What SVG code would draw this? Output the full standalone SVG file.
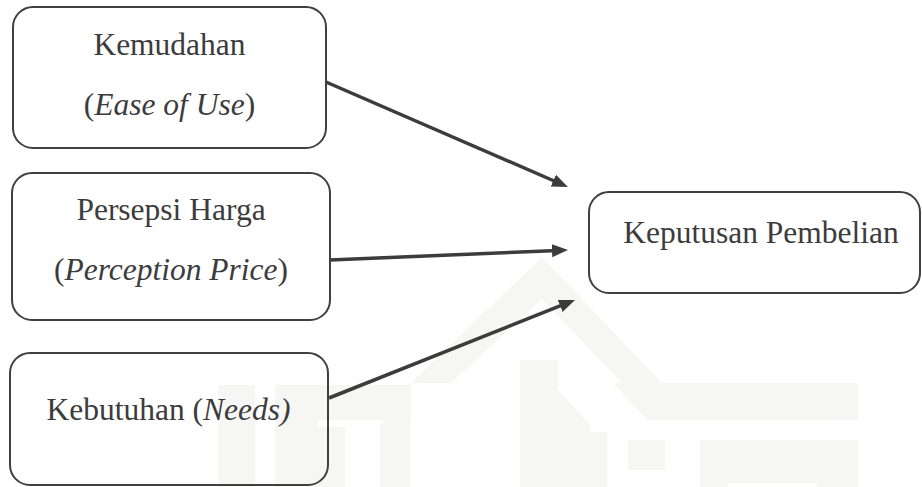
<svg xmlns="http://www.w3.org/2000/svg" width="922" height="487" viewBox="0 0 922 487">
<style>
.box{fill:none;stroke:#404040;stroke-width:2}
.t{font-family:"Liberation Serif","Times New Roman",serif;font-size:31.5px;fill:#3c3c3c;text-anchor:middle}
.i{font-style:italic}
.edge{stroke:#3c3c3c;stroke-width:3.5;fill:none}
.wm{fill:#f6f6f4}
</style>
<defs>
<marker id="arr" markerUnits="userSpaceOnUse" markerWidth="17" markerHeight="14" refX="6" refY="6.5" orient="auto">
<path d="M0,0 L16,6.5 L0,13 z" fill="#3c3c3c"/>
</marker>
</defs>
<rect width="922" height="487" fill="#ffffff"/>
<g id="watermark">
<polygon class="wm" points="411,383 542,257 662,383 622,383 542,299 451,383"/>
<rect class="wm" x="218" y="385" width="37" height="102"/>
<rect class="wm" x="275" y="385" width="43" height="102"/>
<rect class="wm" x="318" y="385" width="93" height="35"/>
<rect class="wm" x="313" y="427" width="32" height="60"/>
<polygon class="wm" points="380,487 380,425 410,395 410,487"/>
<rect class="wm" x="520" y="360" width="38" height="127"/>
<polygon class="wm" points="558,487 558,390 590,425 590,487"/>
<rect class="wm" x="573" y="432" width="34" height="55"/>
<polygon class="wm" points="613,383 858,383 858,420 647,420"/>
<rect class="wm" x="628" y="440" width="37" height="30"/>
<path class="wm" d="M700,440 H858 V487 H817 V483 H728 V487 H700 Z"/>
</g>
<g id="connectors">
<line class="edge" x1="326" y1="82" x2="558.8" y2="183.0" marker-end="url(#arr)"/>
<line class="edge" x1="330" y1="260" x2="558.0" y2="250.4" marker-end="url(#arr)"/>
<line class="edge" x1="329" y1="398" x2="565.7" y2="303.7" marker-end="url(#arr)"/>
</g>
<g id="node-kemudahan">
<rect class="box" x="13" y="7" width="313" height="141" rx="20"/>
<text class="t" x="169.5" y="55">Kemudahan</text>
<text class="t" x="169.5" y="115">(<tspan class="i">Ease of Use</tspan>)</text>
</g>
<g id="node-persepsi">
<rect class="box" x="12" y="173" width="318" height="147" rx="20"/>
<text class="t" x="171" y="220">Persepsi Harga</text>
<text class="t" x="171" y="280">(<tspan class="i">Perception Price</tspan>)</text>
</g>
<g id="node-kebutuhan">
<rect class="box" x="10" y="353" width="318" height="132" rx="20"/>
<text class="t" x="168.5" y="420">Kebutuhan (<tspan class="i">Needs)</tspan></text>
</g>
<g id="node-keputusan">
<rect class="box" x="589" y="192" width="331" height="101" rx="20"/>
<text class="t" x="761" y="243">Keputusan Pembelian</text>
</g>
</svg>
